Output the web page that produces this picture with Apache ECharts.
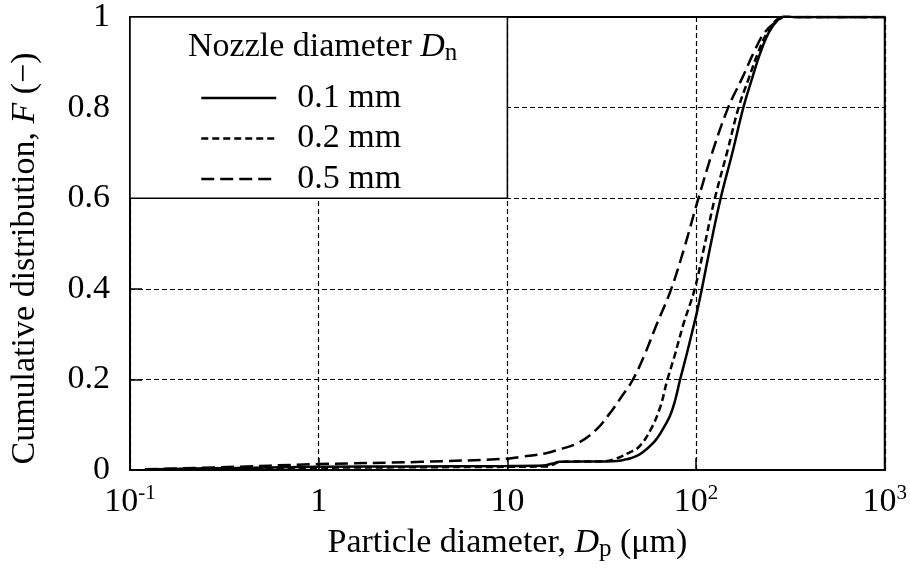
<!DOCTYPE html>
<html>
<head>
<meta charset="utf-8">
<script src="https://cdn.jsdelivr.net/npm/echarts@6/dist/echarts.min.js"></script>
<style>html,body{margin:0;padding:0;background:#fff}#c{width:910px;height:580px}</style>
</head>
<body>
<div id="c"></div>
<script>
// ---- data ----
var seriesNames = ['0.1 mm', '0.2 mm', '0.5 mm'];
var legendTitle = 'Nozzle diameter ';
var legendTitleSymbol = 'D';
var legendTitleSub = 'n';

// [particle diameter (µm), cumulative distribution F]
var d01 = [[0.12,0.001],[0.3,0.004],[1,0.007],[3,0.008],[10,0.009],[15.5,0.010],[17.2,0.014],[19,0.018],[25,0.019],[33,0.019],[38,0.020],[42,0.023],[45,0.026],[50,0.034],[54,0.044],[60,0.062],[64.7,0.081],[72.5,0.118],[77.6,0.155],[82,0.197],[88.5,0.25],[95,0.302],[101,0.348],[107,0.397],[118,0.486],[134,0.594],[157,0.706],[178,0.8],[198,0.864],[220,0.923],[244,0.967],[273,0.995],[297,1.003],[330,1.0],[500,1.0],[1000,1.0]];
var d02 = [[0.12,0.001],[0.3,0.003],[1,0.005],[3,0.006],[10,0.007],[16,0.008],[17.5,0.012],[18.6,0.017],[22,0.019],[30,0.019],[34,0.020],[37,0.024],[39.8,0.029],[44,0.038],[49.8,0.051],[57.3,0.088],[64.7,0.14],[70.2,0.197],[76.7,0.25],[86,0.324],[98,0.397],[109.6,0.486],[124.8,0.594],[147,0.706],[168,0.8],[190,0.864],[214,0.923],[239,0.967],[270,0.995],[297,1.002],[330,1.0],[500,1.0],[1000,1.0]];
var d05 = [[0.12,0.0015],[0.3,0.006],[1,0.013],[3.5,0.018],[10,0.025],[11.8,0.029],[16,0.037],[18.4,0.044],[23.5,0.059],[29.4,0.088],[34.9,0.125],[40,0.16],[45.9,0.197],[52.8,0.25],[62.2,0.324],[73.5,0.397],[86,0.486],[102,0.594],[123,0.706],[148,0.8],[175,0.864],[203,0.923],[232,0.967],[279,0.996],[300,1.002],[330,1.0],[500,1.0],[1000,1.0]];

var xMin = 0.1, xMax = 1000;
var yTicks = [0, 0.2, 0.4, 0.6, 0.8, 1];
var xTickBase = {'-1':'10', '0':'1', '1':'10', '2':'10', '3':'10'};
var xTickSup  = {'-1':'-1', '0':'', '1':'', '2':'2', '3':'3'};

// ---- chart ----
var FONT = "'Liberation Serif','Times New Roman',serif";
var FS = 34;
var chart = echarts.init(document.getElementById('c'), null, {renderer:'canvas'});
var dashes = ['solid', [7,4], [13,6]];
var datas = [d01, d02, d05];

var option = {
  animation: false,
  backgroundColor: '#fff',
  textStyle: {fontFamily: FONT, color: '#000'},
  grid: {left: 128, right: 25, top: 16, bottom: 110, show: true, borderColor: '#000', borderWidth: 2, backgroundColor: 'transparent'},
  xAxis: {
    type: 'log', logBase: 10, min: xMin, max: xMax,
    axisLine: {show: true, onZero: false, lineStyle: {color: '#000', width: 2}},
    axisTick: {show: true, inside: true, length: 12, lineStyle: {color: '#000', width: 1.5}},
    minorTick: {show: false},
    splitLine: {show: true, lineStyle: {color: '#000', width: 1.2, type: [5,3]}},
    axisLabel: {
      margin: 13, color: '#000', fontFamily: FONT, fontSize: FS,
      formatter: function (v) {
        var e = String(Math.round(Math.log(v) / Math.LN10));
        var b = xTickBase[e], s = xTickSup[e];
        return s ? '{b|' + b + '}{s|' + s + '}' : '{b|' + b + '}';
      },
      rich: {
        b: {fontFamily: FONT, fontSize: FS, lineHeight: 38, color: '#000'},
        s: {fontFamily: FONT, fontSize: 21, lineHeight: 24, verticalAlign: 'top', color: '#000'}
      }
    },
    name: '{t|Particle diameter, }{i|D}{s|p}{t| (\u03BCm)}',
    nameLocation: 'middle', nameGap: 54,
    nameTextStyle: {
      rich: {
        t: {fontFamily: FONT, fontSize: FS, lineHeight: 38, color: '#000'},
        i: {fontFamily: FONT, fontSize: FS, fontStyle: 'italic', lineHeight: 38, color: '#000'},
        s: {fontFamily: FONT, fontSize: 25, lineHeight: 16, verticalAlign: 'bottom', color: '#000'}
      }
    }
  },
  yAxis: {
    type: 'value', min: 0, max: 1, interval: 0.2,
    axisLine: {show: true, lineStyle: {color: '#000', width: 2}},
    axisTick: {show: true, inside: true, length: 12, lineStyle: {color: '#000', width: 1.5}},
    splitLine: {show: true, lineStyle: {color: '#000', width: 1.2, type: [5,3]}},
    axisLabel: {margin: 20, color: '#000', fontFamily: FONT, fontSize: FS,
      formatter: function (v) { return String(+v.toFixed(1)); }},
    name: '{t|Cumulative distribution, }{i|F}{t| (\u2212)}',
    nameLocation: 'middle', nameGap: 86, nameRotate: 90,
    nameTextStyle: {
      padding: [0, 30, 0, 0],
      rich: {
        t: {fontFamily: FONT, fontSize: FS, lineHeight: 38, color: '#000'},
        i: {fontFamily: FONT, fontSize: FS, fontStyle: 'italic', lineHeight: 38, color: '#000'}
      }
    }
  },
  legend: {
    show: true, orient: 'vertical', left: 200, top: 81, padding: 0,
    itemWidth: 75, itemHeight: 14, itemGap: 6.5,
    selectedMode: false, z: 20,
    data: seriesNames,
    lineStyle: {width: 2.5},
    itemStyle: {color: 'rgba(0,0,0,0)', borderWidth: 0, opacity: 0},
    textStyle: {fontFamily: FONT, fontSize: FS, color: '#000', lineHeight: 31, padding: [0,0,0,16]}
  },
  series: seriesNames.map(function (n, i) {
    return {
      name: n, type: 'line', data: datas[i], symbol: 'none', showSymbol: false,
      smooth: 0.4, clip: true, z: 3,
      lineStyle: {color: '#000', width: 2.5, type: dashes[i]},
      itemStyle: {color: '#000'}
    };
  })
};
chart.setOption(option);

// legend box drawn from axis coordinates (x = 0.1..10, F = 0.6..1)
var p0 = chart.convertToPixel({xAxisIndex: 0, yAxisIndex: 0}, [xMin, 1]);
var p1 = chart.convertToPixel({xAxisIndex: 0, yAxisIndex: 0}, [10, 0.6]);
chart.setOption({
  graphic: [
    {type: 'rect', z: 10, shape: {x: p0[0], y: p0[1], width: p1[0] - p0[0], height: p1[1] - p0[1]},
     style: {fill: '#fff', stroke: '#000', lineWidth: 1.5}},
    {type: 'text', z: 11, left: p0[0] + 58, top: p0[1] + 13,
     style: {
       text: '{t|' + legendTitle + '}{i|' + legendTitleSymbol + '}{s|' + legendTitleSub + '}',
       rich: {
         t: {fontFamily: FONT, fontSize: FS, lineHeight: 38, fill: '#000'},
         i: {fontFamily: FONT, fontSize: FS, fontStyle: 'italic', lineHeight: 38, fill: '#000'},
         s: {fontFamily: FONT, fontSize: 25, lineHeight: 16, verticalAlign: 'bottom', fill: '#000'}
       }
     }}
  ]
});
</script>
</body>
</html>
